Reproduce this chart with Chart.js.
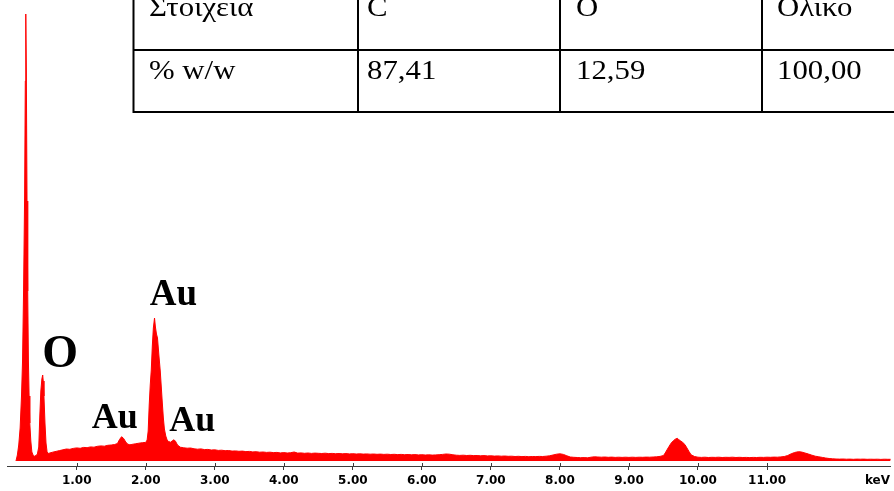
<!DOCTYPE html>
<html>
<head>
<meta charset="utf-8">
<script src="https://cdn.jsdelivr.net/npm/chart.js@4.4.0/dist/chart.umd.min.js"></script>
<style>
  html, body { margin: 0; padding: 0; background: #fff; }
  canvas { display: block; }
</style>
</head>
<body>
<canvas id="edx" width="894" height="491"></canvas>
<script>
// EDX spectrum: photon energy (keV) and counts per channel
const energyKeV = [
  0.12, 0.14, 0.16, 0.18, 0.20, 0.215, 0.23, 0.245, 0.255, 0.262, 0.27, 0.28, 0.29, 0.30, 0.31, 0.32, 0.335, 0.35,
  0.37, 0.39, 0.41, 0.43, 0.45, 0.465, 0.48, 0.495, 0.507, 0.515, 0.525, 0.54, 0.555, 0.57, 0.585, 0.60,
  0.65, 0.70, 0.75, 0.80, 0.85, 0.90, 0.95, 1.00, 1.05, 1.10, 1.15, 1.20, 1.25, 1.30, 1.35, 1.40, 1.45, 1.50, 1.55,
  1.59, 1.62, 1.65, 1.68, 1.71, 1.74, 1.77, 1.80, 1.85, 1.90, 1.95, 2.00,
  2.02, 2.035, 2.05, 2.065, 2.08, 2.095, 2.11, 2.127, 2.14, 2.155, 2.17, 2.19, 2.21, 2.225, 2.24, 2.255, 2.27, 2.29, 2.31, 2.33,
  2.36, 2.39, 2.41, 2.43, 2.46, 2.50, 2.55, 2.60, 2.65, 2.70, 2.75, 2.80, 2.85, 2.90, 2.95,
  3.00, 3.05, 3.10, 3.15, 3.20, 3.25, 3.30, 3.35, 3.40, 3.45, 3.50, 3.55, 3.60, 3.65, 3.70, 3.75, 3.80, 3.85, 3.90, 3.95,
  4.00, 4.05, 4.10, 4.15, 4.20, 4.25, 4.30, 4.35, 4.40, 4.45, 4.50, 4.55, 4.60, 4.65, 4.70, 4.75, 4.80, 4.85, 4.90, 4.95,
  5.00, 5.05, 5.10, 5.15, 5.20, 5.25, 5.30, 5.35, 5.40, 5.45, 5.50, 5.55, 5.60, 5.65, 5.70, 5.75, 5.80, 5.85, 5.90, 5.95,
  6.00, 6.05, 6.10, 6.15, 6.20, 6.25, 6.30, 6.35, 6.40, 6.45, 6.50, 6.55, 6.60, 6.65, 6.70, 6.75, 6.80, 6.85, 6.90, 6.95,
  7.00, 7.05, 7.10, 7.15, 7.20, 7.25, 7.30, 7.35, 7.40, 7.45, 7.50, 7.55, 7.60, 7.65, 7.70, 7.75, 7.80, 7.85, 7.90, 7.95,
  8.00, 8.05, 8.10, 8.15, 8.20, 8.25, 8.30, 8.35, 8.40, 8.45, 8.50, 8.55, 8.60, 8.65, 8.70, 8.75, 8.80, 8.85, 8.90, 8.95,
  9.00, 9.05, 9.10, 9.15, 9.20, 9.25, 9.30, 9.35, 9.40, 9.45, 9.50, 9.525, 9.55, 9.58, 9.61, 9.64, 9.67, 9.70, 9.72, 9.75,
  9.78, 9.81, 9.84, 9.87, 9.90, 9.95,
  10.00, 10.05, 10.10, 10.15, 10.20, 10.25, 10.30, 10.35, 10.40, 10.45, 10.50, 10.55, 10.60, 10.65, 10.70, 10.75, 10.80, 10.85, 10.90, 10.95,
  11.00, 11.05, 11.10, 11.15, 11.20, 11.25, 11.30, 11.35, 11.40, 11.43, 11.46, 11.50, 11.55, 11.60, 11.65, 11.70, 11.75, 11.80, 11.85, 11.90, 11.95,
  12.00, 12.05, 12.10, 12.15, 12.20, 12.25, 12.30, 12.35, 12.40, 12.45, 12.50, 12.55, 12.60, 12.65, 12.70, 12.75, 12.80
];
const counts = [
  0, 60, 160, 330, 650, 1000, 1700, 2650, 3800, 4470, 3900, 2600, 1700, 1000, 650, 380, 200, 90,
  55, 48, 55, 70, 140, 450, 700, 820, 860, 800, 650, 380, 180, 95, 75, 78,
  88, 96, 104, 112, 120, 117, 126, 131, 127, 136, 133, 141, 138, 147, 151, 148, 157, 160, 165,
  175, 215, 243, 225, 190, 168, 162, 166, 172, 178, 183, 186,
  210, 300, 560, 760, 910, 1150, 1330, 1430, 1340, 1270, 1230, 1060, 900, 740, 580, 430, 320, 250, 210, 195,
  188, 205, 212, 198, 160, 138, 132, 128, 130, 122, 118, 121, 114, 116, 110,
  112, 106, 108, 103, 105, 99, 101, 97, 99, 94, 96, 91, 93, 88, 90, 86, 88, 84, 86, 81,
  84, 80, 83, 90, 79, 81, 77, 80, 76, 79, 77, 75, 78, 74, 76, 73, 75, 72, 74, 71,
  73, 70, 72, 69, 71, 68, 70, 67, 69, 66, 68, 65, 67, 64, 66, 63, 65, 62, 64, 61,
  63, 60, 62, 59, 61, 63, 66, 70, 68, 62, 58, 56, 58, 55, 57, 54, 55, 52, 54, 51,
  52, 49, 51, 48, 50, 47, 48, 45, 47, 44, 46, 43, 45, 44, 46, 45, 48, 52, 60, 68,
  72, 66, 52, 40, 37, 35, 33, 34, 32, 38, 42, 40, 38, 40, 37, 39, 36, 38, 36, 38,
  36, 38, 36, 38, 37, 39, 38, 40, 42, 46, 55, 80, 110, 145, 178, 200, 218, 227, 215, 200,
  185, 165, 130, 95, 62, 45,
  38, 36, 38, 35, 37, 36, 38, 35, 37, 36, 38, 35, 37, 35, 36, 34, 36, 35, 37, 36,
  38, 37, 39, 38, 41, 45, 55, 72, 85, 90, 93, 90, 80, 70, 58, 48, 42, 36, 30, 25, 22,
  20, 19, 20, 18, 19, 17, 19, 18, 19, 17, 18, 17, 18, 16, 18, 17, 17
];

// Axis ticks (keV) and the unit shown at the end of the axis
const tickValues = [1, 2, 3, 4, 5, 6, 7, 8, 9, 10, 11];
const unitTickValue = 12.6;
const unitLabel = 'keV';

// Composition inset
const tableHeader = ['Στοιχεια', 'C', 'O', 'Ολικο'];
const tableValues = ['% w/w', '87,41', '12,59', '100,00'];

// Peak identifications
const peakNames = ['O', 'Au', 'Au', 'Au'];

const axisGray = '#3c3c3c';

// Label anchors in data units (keV, counts) and type size
const peakLabelStyle = [
  { e: 0.76, c: 940, size: 46 },
  { e: 2.40, c: 1560, size: 37 },
  { e: 1.55, c: 330, size: 36 },
  { e: 2.675, c: 300, size: 36 }
];

const overlay = {
  id: 'overlay',
  afterDraw(chart) {
    const ctx = chart.ctx;
    const xs = chart.scales.x, ys = chart.scales.y;
    const bottom = chart.chartArea.bottom;

    // upper half of each axis tick (crosses the axis line)
    ctx.save();
    ctx.strokeStyle = axisGray;
    ctx.lineWidth = 1;
    tickValues.forEach(v => {
      const px = Math.round(xs.getPixelForValue(v)) + 0.5;
      ctx.beginPath();
      ctx.moveTo(px, bottom - 3);
      ctx.lineTo(px, bottom);
      ctx.stroke();
    });
    ctx.restore();

    // peak labels
    ctx.save();
    ctx.fillStyle = '#000';
    ctx.textAlign = 'center';
    ctx.textBaseline = 'alphabetic';
    peakNames.forEach((name, i) => {
      const s = peakLabelStyle[i];
      ctx.font = 'bold ' + s.size + 'px "Liberation Serif", "Times New Roman", serif';
      ctx.fillText(name, xs.getPixelForValue(s.e), ys.getPixelForValue(s.c));
    });
    ctx.restore();

    // composition inset table
    const colX = [133.5, 358, 560, 762];
    const rowY = [-12, 50, 112];
    const right = 900;
    ctx.save();
    ctx.fillStyle = '#fff';
    ctx.fillRect(colX[0], 0, right - colX[0], rowY[2]);
    ctx.strokeStyle = '#000';
    ctx.lineWidth = 2;
    ctx.beginPath();
    colX.forEach(x => { ctx.moveTo(x, rowY[0]); ctx.lineTo(x, rowY[2] + 1); });
    rowY.forEach(y => { ctx.moveTo(colX[0] - 1, y); ctx.lineTo(right, y); });
    ctx.stroke();

    ctx.fillStyle = '#000';
    ctx.font = '28px "Liberation Serif", "Times New Roman", serif';
    ctx.textAlign = 'left';
    const textX = [149, 367, 576, 777];
    const drawCell = (t, x, y) => {
      ctx.save();
      ctx.translate(x, y);
      ctx.scale(1.1, 1);
      ctx.fillText(t, 0, 0);
      ctx.restore();
    };
    tableHeader.forEach((t, i) => drawCell(t, textX[i], rowY[0] + 27.5));
    tableValues.forEach((t, i) => drawCell(t, textX[i], rowY[1] + 28.5));
    ctx.restore();
  }
};

new Chart(document.getElementById('edx'), {
  type: 'line',
  data: {
    datasets: [{
      data: energyKeV.map((e, i) => ({ x: e, y: counts[i] })),
      borderColor: '#ff0000',
      backgroundColor: '#ff0000',
      borderWidth: 1,
      pointRadius: 0,
      fill: 'origin',
      tension: 0
    }]
  },
  options: {
    responsive: false,
    animation: false,
    events: [],
    layout: { padding: { left: 7.7, right: 0, top: 0, bottom: 0 } },
    plugins: { legend: { display: false }, tooltip: { enabled: false } },
    scales: {
      x: {
        type: 'linear',
        min: 0,
        max: 12.79,
        afterBuildTicks: s => {
          s.ticks = tickValues.map(v => ({ value: v })).concat([{ value: unitTickValue }]);
        },
        afterFit: s => { s.height = 25; },
        ticks: {
          autoSkip: false,
          maxRotation: 0,
          color: '#000',
          padding: 4,
          font: { family: '"DejaVu Sans", Verdana, sans-serif', size: 12, weight: 'bold' },
          callback: v => (v > 12 ? unitLabel : Number(v).toFixed(2))
        },
        grid: {
          drawOnChartArea: false,
          drawTicks: true,
          tickLength: 4,
          tickWidth: 1,
          tickColor: c => (c.tick && c.tick.value > 12 ? 'rgba(0,0,0,0)' : axisGray)
        },
        border: { display: true, color: axisGray, width: 1 }
      },
      y: { display: false, min: -50, max: 4610 }
    }
  },
  plugins: [overlay]
});
</script>
</body>
</html>
